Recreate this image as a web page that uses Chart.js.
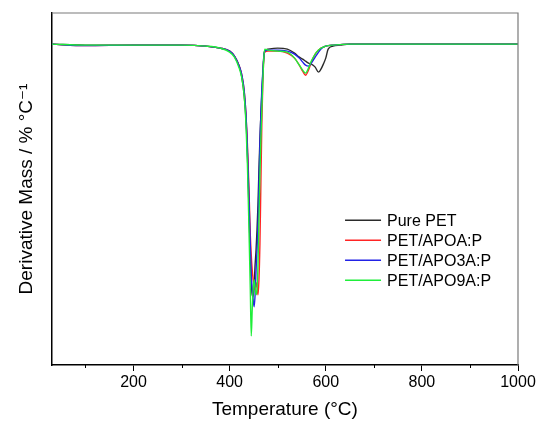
<!DOCTYPE html>
<html lang="en">
<head>
    <meta charset="UTF-8">
    <title>DTG curves</title>
    <script src="https://cdn.jsdelivr.net/npm/chart.js"></script>
    <style>
        html, body { margin: 0; padding: 0; background: #fff; }
        #wrap { width: 539px; height: 421px; }
    </style>
</head>
<body>
    <div id="wrap"><canvas id="dtgCanvas"></canvas></div>

    <script>
        // temperature grid (°C) shared by all curves
        const temps = [30, 100, 200, 300, 350, 380, 400, 410, 420, 425, 430, 434, 437, 440, 443, 445, 447, 449, 451, 453,
            455, 457, 459, 461, 463, 465, 467, 469, 471, 473, 480, 500, 520, 535, 545, 552, 558, 564, 570, 578,
            585, 590, 595, 600, 605, 615, 630, 650, 700, 800, 900, 1000];

        // derivative mass (% / °C)
        const purePet = [0, -0.01, -0.01, -0.01, -0.02, -0.04, -0.07, -0.12, -0.22, -0.32, -0.5, -0.75, -1.1, -1.6, -2.1, -2.35, -2.5, -2.52, -2.4, -2.2,
            -2.05, -1.85, -1.6, -1.25, -0.95, -0.7, -0.5, -0.3, -0.14, -0.07, -0.05, -0.04, -0.05, -0.09, -0.13, -0.15, -0.17, -0.19, -0.2, -0.23,
            -0.28, -0.25, -0.2, -0.14, -0.05, -0.02, -0.01, 0, 0, 0, 0, 0];
        const apoA = [0, -0.015, -0.01, -0.01, -0.02, -0.04, -0.07, -0.12, -0.22, -0.3, -0.45, -0.7, -1.0, -1.4, -1.9, -2.1, -2.25, -2.35, -2.4, -2.45,
            -2.38, -2.42, -2.5, -2.35, -2.0, -1.4, -0.8, -0.4, -0.15, -0.08, -0.07, -0.07, -0.09, -0.14, -0.21, -0.27, -0.31, -0.26, -0.18, -0.1,
            -0.06, -0.04, -0.03, -0.02, -0.015, -0.01, -0.005, 0, 0, 0, 0, 0];
        const apo3A = [0, -0.015, -0.01, -0.01, -0.02, -0.04, -0.07, -0.12, -0.22, -0.3, -0.45, -0.7, -1.05, -1.5, -2.0, -2.3, -2.45, -2.55, -2.62, -2.5,
            -2.25, -2.05, -1.8, -1.4, -1.0, -0.7, -0.45, -0.28, -0.13, -0.07, -0.06, -0.06, -0.07, -0.1, -0.14, -0.18, -0.21, -0.22, -0.19, -0.13,
            -0.08, -0.05, -0.03, -0.02, -0.015, -0.01, -0.005, 0, 0, 0, 0, 0];
        const apo9A = [0, -0.01, -0.01, -0.01, -0.02, -0.04, -0.08, -0.13, -0.24, -0.33, -0.5, -0.8, -1.2, -1.8, -2.45, -2.91, -2.65, -2.45, -2.35, -2.42,
            -2.5, -2.45, -2.2, -1.75, -1.3, -0.95, -0.65, -0.38, -0.15, -0.05, -0.06, -0.07, -0.08, -0.14, -0.21, -0.26, -0.29, -0.24, -0.17, -0.1,
            -0.06, -0.04, -0.03, -0.02, -0.015, -0.01, -0.005, 0, 0, 0, 0, 0];

        const seriesNames = ['Pure PET', 'PET/APOA:P', 'PET/APO3A:P', 'PET/APO9A:P'];
        const seriesColors = ['#2b2b2b', '#ff2424', '#2222e6', '#1fee3a'];
        const xTickValues = [100, 200, 300, 400, 500, 600, 700, 800, 900, 1000];

        const FONT = "'Liberation Sans', Arial, 'DejaVu Sans', sans-serif";

        const toPoints = (vals) => temps.map((t, i) => ({ x: t, y: vals[i] }));
        const allSeries = [purePet, apoA, apo3A, apo9A];

        // minor ticks, box frame and in-plot legend
        const decorations = {
            id: 'decorations',
            afterDraw(chart) {
                const { ctx, chartArea: a, scales } = chart;
                ctx.save();
                // minor ticks (short)
                ctx.strokeStyle = '#000';
                ctx.lineWidth = 1;
                xTickValues.forEach(v => {
                    if (v % 200 === 0) return;
                    const px = Math.round(scales.x.getPixelForValue(v)) + 0.5;
                    ctx.beginPath();
                    ctx.moveTo(px, a.bottom);
                    ctx.lineTo(px, a.bottom + 3);
                    ctx.stroke();
                });
                // top and right frame
                ctx.strokeStyle = '#7a7a7a';
                ctx.lineWidth = 1.2;
                ctx.beginPath();
                ctx.moveTo(a.left, a.top);
                ctx.lineTo(a.right, a.top);
                ctx.lineTo(a.right, a.bottom);
                ctx.stroke();
                // legend
                const x0 = a.left + (a.right - a.left) * 0.629;
                const lineLen = 36;
                const y0 = a.top + (a.bottom - a.top) * 0.589;
                ctx.font = '16px ' + FONT;
                ctx.textBaseline = 'middle';
                ctx.fillStyle = '#000';
                seriesNames.forEach((name, i) => {
                    const y = y0 + i * 20;
                    ctx.strokeStyle = seriesColors[i];
                    ctx.lineWidth = 1.5;
                    ctx.beginPath();
                    ctx.moveTo(x0, y);
                    ctx.lineTo(x0 + lineLen, y);
                    ctx.stroke();
                    ctx.fillText(name, x0 + lineLen + 6, y + 1);
                });
                ctx.restore();
            }
        };

        const config = {
            type: 'line',
            data: {
                datasets: allSeries.map((vals, i) => ({
                    label: seriesNames[i],
                    data: toPoints(vals),
                    borderColor: seriesColors[i],
                    borderWidth: 1.4,
                    pointRadius: 0,
                    fill: false,
                    cubicInterpolationMode: 'monotone',
                    order: 4 - i,
                })),
            },
            options: {
                responsive: true,
                maintainAspectRatio: false,
                animation: false,
                layout: { padding: { top: 13, right: 21, left: 5, bottom: 0 } },
                plugins: {
                    legend: { display: false },
                    tooltip: { enabled: false },
                },
                scales: {
                    x: {
                        type: 'linear',
                        min: 30,
                        max: 1000,
                        afterBuildTicks: (scale) => {
                            scale.ticks = xTickValues.map(v => ({ value: v, major: v % 200 === 0 }));
                        },
                        ticks: {
                            autoSkip: false,
                            maxRotation: 0,
                            padding: 2,
                            color: '#000',
                            font: { family: FONT, size: 16 },
                            callback: (v) => (v % 200 === 0 ? v : ''),
                        },
                        grid: {
                            display: true,
                            drawOnChartArea: false,
                            drawTicks: true,
                            tickLength: 6,
                            tickWidth: 1,
                            tickColor: (c) => (c.tick && c.tick.value % 200 === 0 ? '#000' : 'rgba(0,0,0,0)'),
                        },
                        border: { display: true, color: '#000', width: 1.5 },
                        title: {
                            display: true,
                            text: 'Temperature (°C)',
                            color: '#000',
                            font: { family: FONT, size: 19 },
                            padding: { top: 4, bottom: 0 },
                        },
                    },
                    y: {
                        type: 'linear',
                        min: -3.2,
                        max: 0.31,
                        ticks: { display: false },
                        grid: { display: false, drawTicks: false },
                        border: { display: true, color: '#000', width: 1.5 },
                        title: {
                            display: true,
                            text: 'Derivative Mass / % °C⁻¹',
                            color: '#000',
                            font: { family: FONT, size: 19 },
                            padding: { top: 10, bottom: 14 },
                        },
                    },
                },
            },
            plugins: [decorations],
        };

        new Chart(document.getElementById('dtgCanvas'), config);
    </script>
</body>
</html>
